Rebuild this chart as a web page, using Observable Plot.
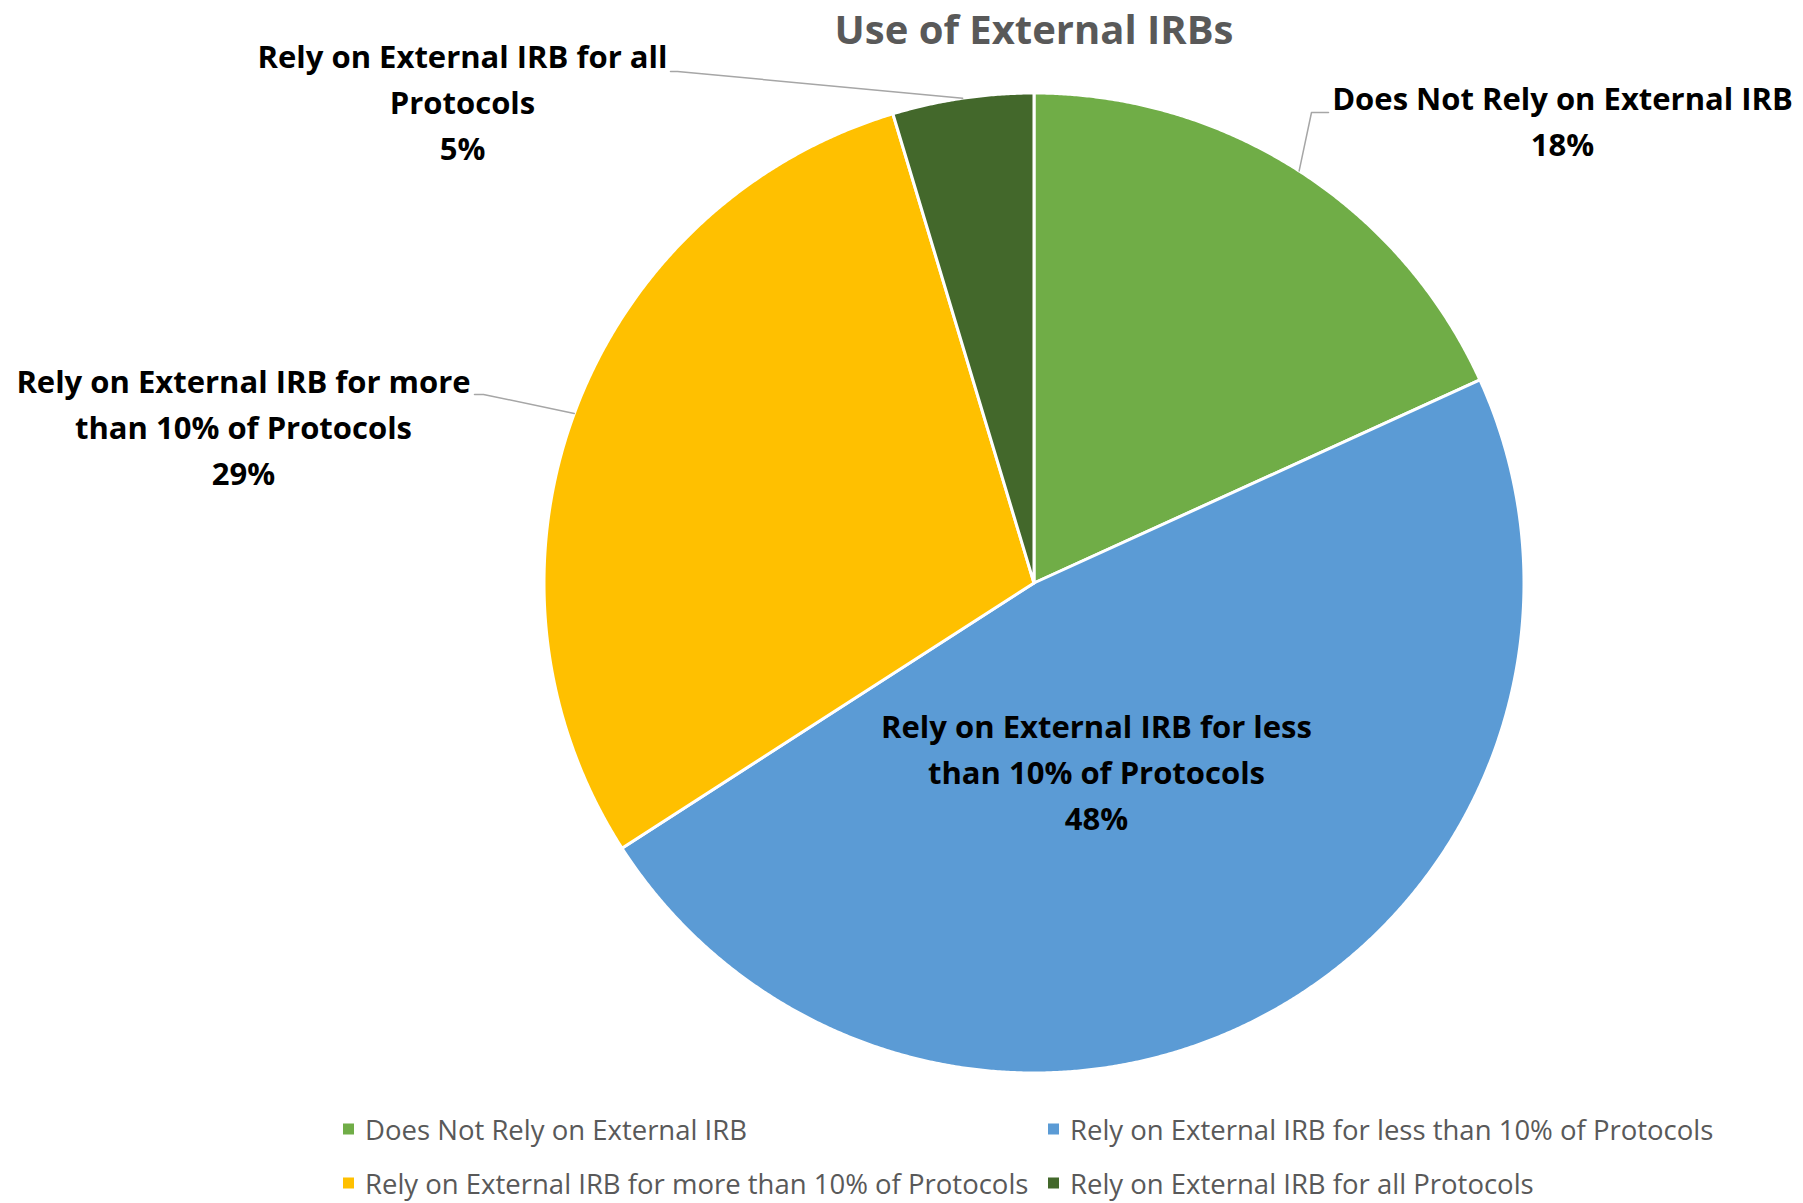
<!DOCTYPE html>
<html>
<head>
<meta charset="utf-8">
<script src="https://cdn.jsdelivr.net/npm/d3@7"></script>
<script src="https://cdn.jsdelivr.net/npm/@observablehq/plot@0.6"></script>
<style>
  html, body { margin: 0; padding: 0; background: #ffffff; }
  #wrap { width: 1803px; height: 1203px; position: relative; overflow: hidden; font-family: "Open Sans", Lato, sans-serif; }
  #legend { position: relative; width: 1803px; height: 103px; }
  .item { position: absolute; display: flex; align-items: center; color: #595959; font-size: 27.5px; white-space: nowrap; transform: translateY(-50%); }
  .sw { width: 11px; height: 11px; margin-right: 11px; }
</style>
</head>
<body>
<div id="wrap"><div id="chart"></div><div id="legend"></div></div>
<script>
// ---- data ----
const categories = [
  "Does Not Rely on External IRB",
  "Rely on External IRB for less than 10% of Protocols",
  "Rely on External IRB for more than 10% of Protocols",
  "Rely on External IRB for all Protocols"
];
// share of respondents (%); labels show rounded values
const values = [18.2, 47.7, 29.45, 4.65];
const labelLines = [
  ["Does Not Rely on External IRB"],
  ["Rely on External IRB for less", "than 10% of Protocols"],
  ["Rely on External IRB for more", "than 10% of Protocols"],
  ["Rely on External IRB for all", "Protocols"]
];
const title = "Use of External IRBs";

// ---- styles / layout ----
const colors = ["#70AD47", "#5B9BD5", "#FFC000", "#43682B"];
const W = 1803, H = 1100, CX = 1033.5, CY = 582.5, R = 490;
const labelPos = [[1562, 118], [1096, 769], [243, 424], [462, 99]];
const leaderElbows = [[[1311, 112], [1328, 112]], null, [[483, 394], [474, 394]], [[677, 71], [670, 71]]];
const legendPos = [[343, 29], [1048, 29], [343, 83], [1048, 83]];

// ---- geometry from data ----
const arcs = d3.pie().sort(null).value(d => d)(values);
const pt = (a, r) => ({x: CX + r * Math.sin(a), y: CY - r * Math.cos(a)});
const sliceMarks = arcs.map((a, i) => {
  const pts = [{x: CX, y: CY}];
  const n = Math.max(2, Math.ceil((a.endAngle - a.startAngle) / (Math.PI / 720)));
  for (let k = 0; k <= n; k++) pts.push(pt(a.startAngle + (a.endAngle - a.startAngle) * k / n, R));
  pts.push({x: CX, y: CY});
  return Plot.line(pts, {x: "x", y: "y", fill: colors[i], stroke: "#ffffff", strokeWidth: 3, strokeLinejoin: "round"});
});
const leaderMarks = arcs.map((a, i) => {
  if (!leaderElbows[i]) return null;
  const mid = (a.startAngle + a.endAngle) / 2;
  const pts = [pt(mid, R), ...leaderElbows[i].map(([x, y]) => ({x, y}))];
  return Plot.line(pts, {x: "x", y: "y", stroke: "#A6A6A6", strokeWidth: 1.5});
}).filter(Boolean);
const labels = values.map((v, i) => ({
  x: labelPos[i][0], y: labelPos[i][1],
  text: [...labelLines[i], `${Math.round(v)}%`].join("\n")
}));

const chart = Plot.plot({
  width: W, height: H, margin: 0,
  x: {domain: [0, W], range: [0, W], axis: null},
  y: {domain: [0, H], range: [0, H], axis: null},
  style: {background: "#ffffff", fontFamily: "'Open Sans', Lato, sans-serif"},
  marks: [
    ...sliceMarks,
    ...leaderMarks,
    Plot.text(labels, {x: "x", y: "y", text: "text", fontSize: 31, fontWeight: "bold", fill: "#000000", lineHeight: 1.484, lineAnchor: "middle", textAnchor: "middle"}),
    Plot.text([title], {x: () => CX, y: () => 31, text: d => d, fontSize: 40, fontWeight: "bold", fill: "#595959", textAnchor: "middle", lineAnchor: "middle"})
  ]
});
document.getElementById("chart").appendChild(chart);

const legend = document.getElementById("legend");
categories.forEach((c, i) => {
  const el = document.createElement("div");
  el.className = "item";
  el.style.left = legendPos[i][0] + "px";
  el.style.top = legendPos[i][1] + "px";
  el.innerHTML = `<span class="sw" style="background:${colors[i]}"></span><span></span>`;
  el.lastChild.textContent = c;
  legend.appendChild(el);
});
</script>
</body>
</html>
